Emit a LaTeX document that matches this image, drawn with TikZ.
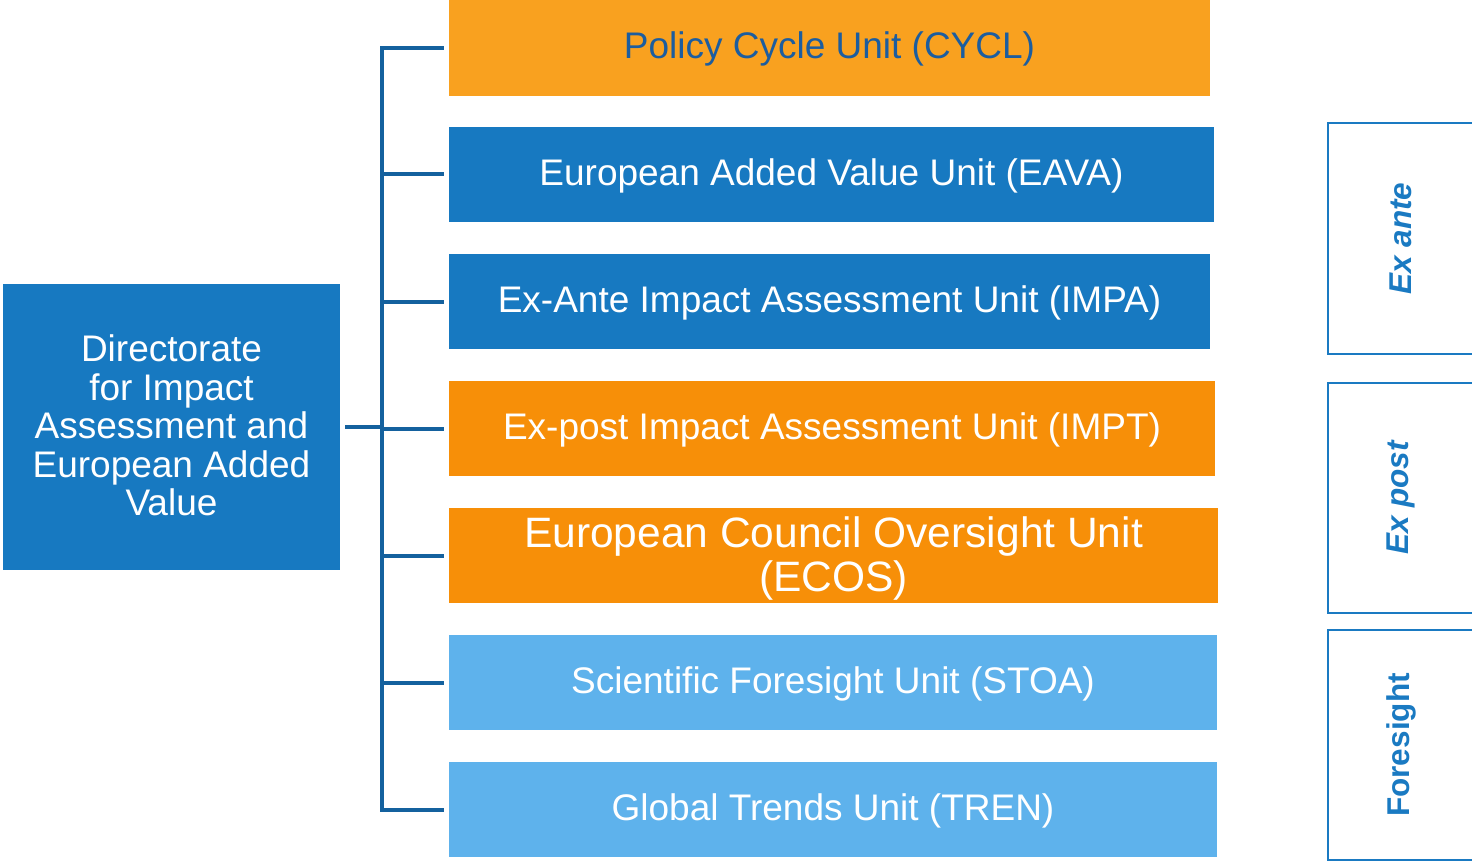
\documentclass[tikz,border=0pt]{standalone}
\usepackage{fontspec}
\setmainfont{Liberation Sans}
\definecolor{orangeA}{HTML}{F9A11F}
\definecolor{orangeB}{HTML}{F78F08}
\definecolor{unitblue}{HTML}{1779C1}
\definecolor{lightblue}{HTML}{5EB2EC}
\definecolor{linkblue}{HTML}{14619E}
\definecolor{darktext}{HTML}{1C5D9F}
\definecolor{phaseblue}{HTML}{1A7AC2}
\begin{document}
\begin{tikzpicture}[x=1pt,y=-1pt,
  unitbox/.style={rectangle,inner sep=0pt,minimum height=95pt,text=white,
    font=\fontsize{37}{38.5}\selectfont,align=center},
  oneline/.style={text height=28pt,text depth=6pt},
  phasebox/.style={rectangle,draw=phaseblue,line width=2.5pt,fill=white,inner sep=0pt,
    minimum width=146pt,text=phaseblue,font=\fontsize{31.5}{33}\selectfont\bfseries},
  conn/.style={draw=linkblue,line width=4pt,line join=miter}]
\useasboundingbox (0,0) rectangle (1472,861);

% directorate
\node[unitbox,fill=unitblue,minimum width=337pt,minimum height=286pt,text depth=3pt] (dir) at (171.5,427) {Directorate\\for Impact\\Assessment and\\European Added\\Value};

% units
\node[unitbox,oneline,fill=orangeA,text=darktext,minimum width=761pt,minimum height=96pt] (cycl) at (829.5,48) {Policy Cycle Unit (CYCL)};
\node[unitbox,oneline,fill=unitblue,minimum width=765pt] (eava) at (831.5,174.5) {European Added Value Unit (EAVA)};
\node[unitbox,oneline,fill=unitblue,minimum width=761pt] (impa) at (829.5,301.5) {Ex-Ante Impact Assessment Unit (IMPA)};
\node[unitbox,oneline,fill=orangeB,minimum width=766pt] (impt) at (832,428.5) {Ex-post Impact Assessment Unit (IMPT)};
\node[unitbox,fill=orangeB,minimum width=769pt,font=\fontsize{42.5}{44}\selectfont,text depth=3pt] (ecos) at (833.5,555.5) {European Council Oversight Unit\\(ECOS)};
\node[unitbox,oneline,fill=lightblue,minimum width=768pt] (stoa) at (833,682.5) {Scientific Foresight Unit (STOA)};
\node[unitbox,oneline,fill=lightblue,minimum width=768pt] (tren) at (833,809.5) {Global Trends Unit (TREN)};

% phases
\node[phasebox,minimum height=231pt] (exante) at (1401,238.5) {\rotatebox{90}{\itshape Ex ante}};
\node[phasebox,minimum height=230pt] (expost) at (1401,498) {\rotatebox{90}{\itshape Ex post}};
\node[phasebox,minimum height=230pt] (foresight) at (1401,745) {\rotatebox{90}{Foresight}};

% tree connectors
\coordinate (trunk) at (382,0);
\draw[conn] ([xshift=-5]cycl.west) -- (cycl.west -| trunk) -- (tren.west -| trunk) -- ([xshift=-5]tren.west);
\foreach \u in {eava,impa,impt,ecos,stoa}
  \draw[conn] (\u.west -| trunk) -- ([xshift=-5]\u.west);
\draw[conn] ([xshift=5]dir.east) -- (dir.east -| trunk);
\end{tikzpicture}
\end{document}
